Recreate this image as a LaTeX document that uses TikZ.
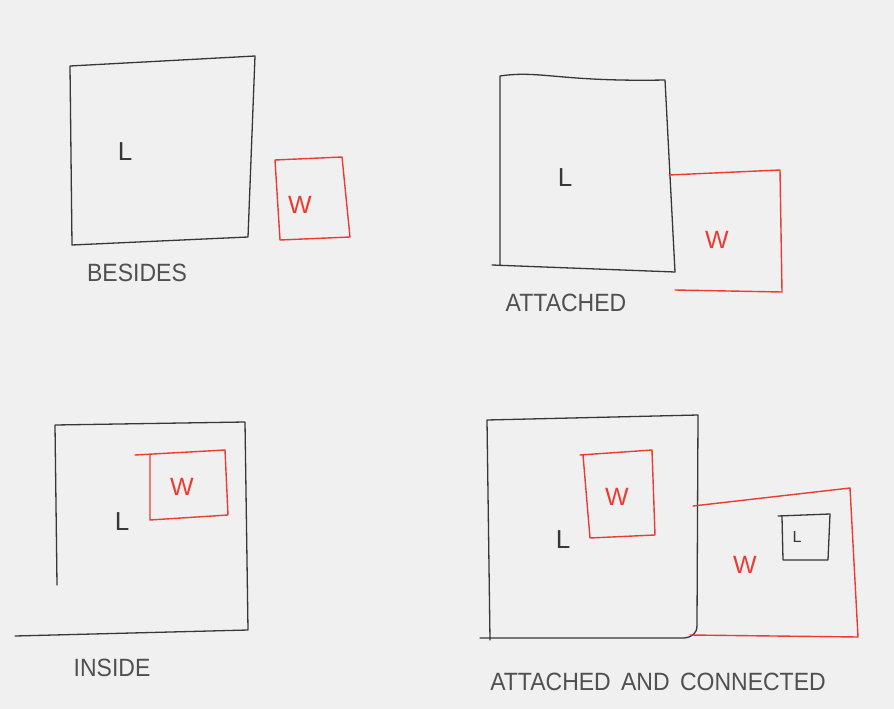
\documentclass[tikz,border=0pt]{standalone}
\usepackage{fontspec}
\setmainfont{Liberation Sans}
\definecolor{paper}{RGB}{240,240,240}
\definecolor{pen}{RGB}{55,55,55}
\definecolor{redpen}{RGB}{235,60,50}
\definecolor{lblgray}{RGB}{80,80,80}
\begin{document}
\begin{tikzpicture}[x=1pt,y=-1pt,
  ink/.style={draw=pen, line width=1.3pt, line cap=round, line join=round},
  redink/.style={draw=redpen, line width=1.4pt, line cap=round, line join=round},
  lbl/.style={text=lblgray, font=\fontsize{25}{25}\selectfont, inner sep=0pt, xscale=0.92},
  blet/.style={text=pen, font=\fontsize{26}{26}\selectfont, inner sep=0pt},
  rlet/.style={text=redpen, font=\fontsize{25}{25}\selectfont, inner sep=0pt}]
\fill[paper] (0,0) rectangle (894,709);
\useasboundingbox (0,0) rectangle (894,709);

% ---------- BESIDES ----------
\draw[ink] (70,66) -- (255,56) -- (248,237) -- (72,245) -- cycle;
\node[blet] (l1) at (125,152) {L};
\draw[redink] (275,160) -- (342,157) -- (350,237) -- (280,240) -- cycle;
\node[rlet] (w1) at (300,205) {W};
\node[lbl] (t1) at (137,273) {BESIDES};

% ---------- ATTACHED ----------
\draw[ink] (500,265) -- (500,76) .. controls (540,70) and (560,82) .. (665,80) -- (675,272) -- (492,265);
\node[blet] (l2) at (565,178) {L};
\draw[redink] (669,175) -- (780,170) -- (782,292) -- (675,290);
\node[rlet] (w2) at (717,240) {W};
\node[lbl] (t2) at (566,303) {ATTACHED};

% ---------- INSIDE ----------
\draw[ink] (57,585) -- (55,425) -- (245,422) -- (248,630) -- (15,636);
\draw[redink] (135,455) -- (225,450) -- (228,515) -- (150,520) -- (150,455);
\node[rlet] (w3) at (182,487) {W};
\node[blet] (l3) at (122,522) {L};
\node[lbl] (t3) at (112,668) {INSIDE};

% ---------- ATTACHED AND CONNECTED ----------
\draw[ink] (490,640) -- (487,420) -- (698,415) -- (697,625) .. controls (697,634) and (692,637) .. (684,638) -- (480,638);
\draw[redink] (580,455) -- (652,450) -- (655,535) -- (590,538) -- (583,455);
\node[rlet] (w4) at (617,497) {W};
\node[blet] (l4) at (563,540) {L};
\draw[redink] (693,506) -- (850,488) -- (858,637) -- (690,635);
\node[rlet] (w5) at (745,565) {W};
\draw[ink] (778,516) -- (830,514) -- (828,560) -- (783,560) -- (782,517);
\node[blet, font=\fontsize{16}{16}\selectfont] (l5) at (797,537) {L};
\node[lbl] (t4) at (658,682) {ATTACHED\hspace{0.45em}AND\hspace{0.45em}CONNECTED};
\end{tikzpicture}
\end{document}
